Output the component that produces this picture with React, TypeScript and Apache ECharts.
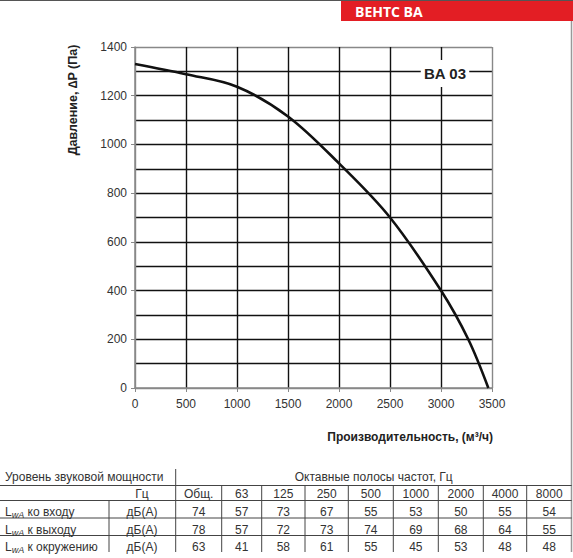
import React, { useEffect, useRef } from "react";
import * as echarts from "echarts";

// Fan curve (flow m³/h, pressure Pa)
const flow = [0, 500, 1000, 1500, 2000, 2500, 3000, 3267, 3464];
const pressure = [1330, 1288, 1237, 1115, 922, 700, 400, 200, 0];

// Sound power table
const bands = ["Общ.", "63", "125", "250", "500", "1000", "2000", "4000", "8000"];
const rowLabels = ["ко входу", "к выходу", "к окружению"];
const inlet = [74, 57, 73, 67, 55, 53, 50, 55, 54];
const outlet = [78, 57, 72, 73, 74, 69, 68, 64, 55];
const ambient = [63, 41, 58, 61, 55, 45, 53, 48, 48];
const tableRows = [inlet, outlet, ambient];

const FONT = "'Liberation Sans', Arial, sans-serif";

export default function App() {
  const ref = useRef<HTMLDivElement>(null);
  useEffect(() => {
    if (!ref.current) return;
    const chart = echarts.init(ref.current, null, { renderer: "svg" });

    const colEdges = [175.7, 221.7, 261.7, 305, 348.3, 393.3, 438.3, 483.3, 526.7, 571.7];
    const hLines = [485.5, 500.5, 518, 535.5];
    const rowY = [512, 529.5, 547];
    const lineColor = "#444";
    const txtColor = "#333";

    const g: any[] = [];
    const line = (x1: number, y1: number, x2: number, y2: number, color = lineColor, w = 1) =>
      g.push({ type: "line", silent: true, z: 50, shape: { x1, y1, x2, y2 }, style: { stroke: color, lineWidth: w } });
    const text = (x: number, y: number, t: string, align = "center", extra: any = {}) =>
      g.push({
        type: "text", silent: true, z: 60, x, y,
        style: { text: t, fontFamily: FONT, fontSize: 12, fill: txtColor, align, verticalAlign: "middle", ...extra },
      });

    // page frame + header
    line(0, 0.5, 573, 0.5, "#555", 1);
    line(571.5, 21, 571.5, 552, "#999", 1.5);
    g.push({ type: "rect", z: 40, shape: { x: 341, y: 1, width: 232, height: 20 }, style: { fill: "#e31e24" } });
    text(355, 11.5, "ВЕНТС ВА", "left", { fill: "#fff", fontSize: 14, fontWeight: "bold", fontFamily: "'Open Sans', " + FONT });

    // axis titles
    g.push({
      type: "text", z: 60, x: 73, y: 100, rotation: Math.PI / 2,
      style: { text: "Давление, ∆P (Па)", fontFamily: FONT, fontSize: 12.5, fontWeight: "bold", fill: "#222", align: "center", verticalAlign: "middle" },
    });
    text(493, 437, "Производительность, (м³/ч)", "right", { fontWeight: "bold", fill: "#222" });

    // model label
    g.push({
      type: "text", z: 100, x: 445, y: 73.5,
      style: {
        text: "BA 03", fontFamily: FONT, fontSize: 15, fontWeight: "bold", fill: "#222",
        align: "center", verticalAlign: "middle", backgroundColor: "#fff", padding: [6, 3],
      },
    });

    // table lines
    hLines.forEach((y) => line(0, y, 571.7, y));
    line(colEdges[0], 469, colEdges[0], 552);
    line(109, hLines[1], 109, 552);
    colEdges.slice(1, -1).forEach((x) => line(x, hLines[0], x, 552));

    // table text
    text(5, 477, "Уровень звуковой мощности", "left");
    text((colEdges[0] + colEdges[9]) / 2, 477, "Октавные полосы частот, Гц");
    text(142, 494, "Гц");
    bands.forEach((b, i) => text((colEdges[i] + colEdges[i + 1]) / 2, 494, b));
    rowLabels.forEach((lab, r) => {
      g.push({
        type: "text", silent: true, z: 60, x: 5, y: rowY[r],
        style: {
          text: `{l|L}{s|wA}{t| ${lab}}`, fontFamily: FONT, fontSize: 12, fill: txtColor,
          align: "left", verticalAlign: "middle",
          rich: {
            l: { fontFamily: FONT, fontSize: 12, fill: txtColor, lineHeight: 14, verticalAlign: "middle" },
            s: { fontFamily: FONT, fontSize: 9, fontStyle: "italic", fill: txtColor, lineHeight: 15, verticalAlign: "bottom" },
            t: { fontFamily: FONT, fontSize: 12, fill: txtColor, lineHeight: 14, verticalAlign: "middle" },
          },
        },
      });
      text(142, rowY[r], "дБ(А)");
      tableRows[r].forEach((v, i) => text((colEdges[i] + colEdges[i + 1]) / 2, rowY[r], String(v)));
    });

    const gridLine = { color: "#111", width: 1.4 };
    chart.setOption({
      animation: false,
      backgroundColor: "#fff",
      textStyle: { fontFamily: FONT },
      grid: { left: 135, right: 81, top: 47, bottom: 170, containLabel: false },
      xAxis: {
        type: "value", min: 0, max: 3500, interval: 500,
        axisLine: { show: true, onZero: false, lineStyle: { color: "#888", width: 1.5 } },
        axisTick: { show: true, length: 4, lineStyle: { color: "#888" } },
        axisLabel: { color: "#333", fontSize: 12, margin: 10, fontFamily: FONT, formatter: (v: number) => String(v) },
        splitLine: { show: true, lineStyle: { ...gridLine, color: ["#888", "#111", "#111", "#111", "#111", "#111", "#111", "#888"] } },
      },
      yAxis: {
        type: "value", min: 0, max: 1400, interval: 200,
        axisLine: { show: true, onZero: false, lineStyle: { color: "#888", width: 1.5 } },
        axisTick: { show: true, length: 4, lineStyle: { color: "#888" } },
        axisLabel: { color: "#333", fontSize: 12, margin: 8, fontFamily: FONT, formatter: (v: number) => String(v) },
        splitLine: { show: true, lineStyle: { ...gridLine, color: ["#888", "#111", "#111", "#111", "#111", "#111", "#111", "#888"] } },
        minorTick: { show: false, splitNumber: 2 },
        minorSplitLine: { show: true, lineStyle: gridLine },
      },
      series: [
        {
          type: "line",
          data: flow.map((f, i) => [f, pressure[i]]),
          smooth: 0.35,
          showSymbol: false,
          symbol: "none",
          lineStyle: { color: "#111", width: 2.6 },
          z: 10,
        },
      ],
      graphic: g,
    });
    return () => chart.dispose();
  }, []);
  return <div ref={ref} style={{ position: "absolute", left: 0, top: 0, width: 573, height: 558 }} />;
}
